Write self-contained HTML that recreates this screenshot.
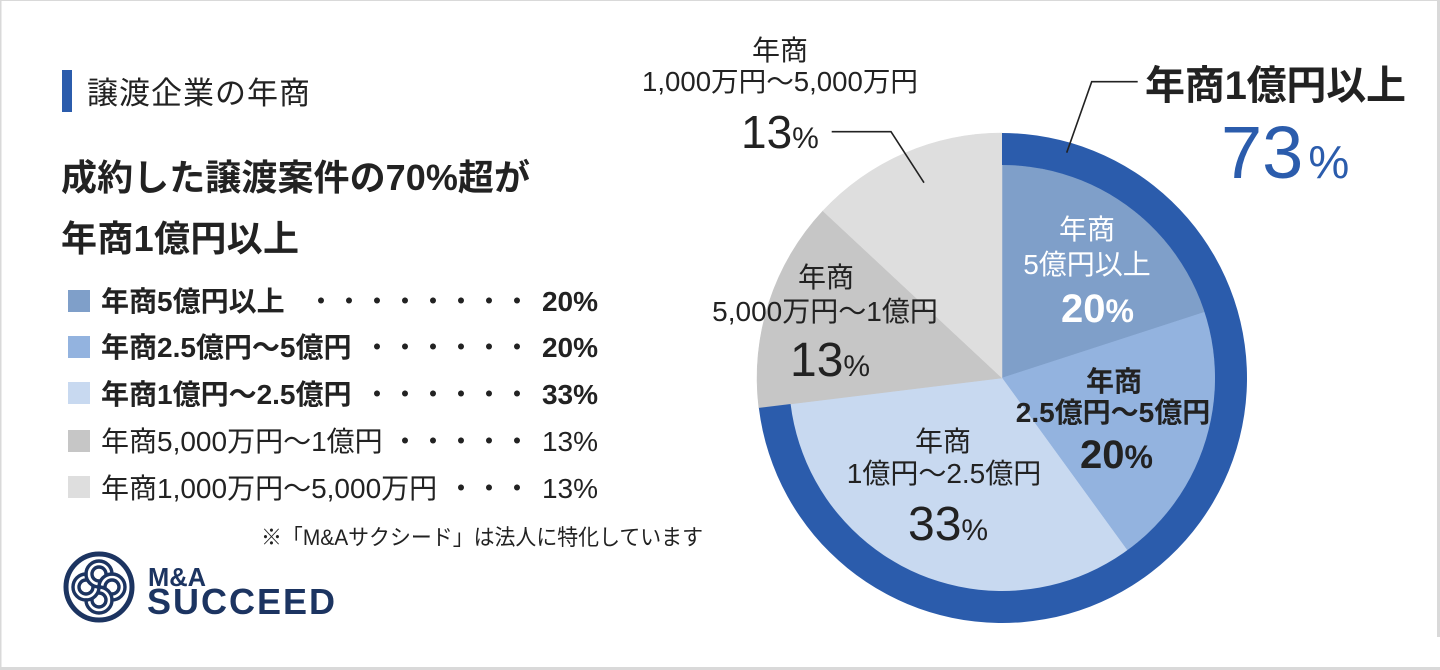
<!DOCTYPE html>
<html>
<head>
<meta charset="utf-8">
<style>
html,body{margin:0;padding:0;background:#fff;}
body{width:1440px;height:670px;overflow:hidden;}
svg{display:block;}
text{font-family:"Liberation Sans","Noto Sans CJK JP",sans-serif;fill:#222;}
.b{font-weight:700;}
.w{fill:#fff;}
.blue{fill:#2b5cac;}
.navy{fill:#1c3461;}
</style>
</head>
<body>
<svg width="1440" height="670" viewBox="0 0 1440 670" xmlns="http://www.w3.org/2000/svg">
  <rect x="0" y="0" width="1440" height="670" fill="#fff"/>
  <!-- frame -->
  <rect x="0" y="0" width="1440" height="1" fill="#d9d9d9"/>
  <rect x="0" y="0" width="1.5" height="670" fill="#d9d9d9"/>
  <rect x="1437" y="0" width="3" height="637" fill="#d9d9d9"/>
  <rect x="0" y="667" width="1440" height="3" fill="#d9d9d9"/>

  <!-- header -->
  <rect x="62" y="70" width="10" height="42" fill="#2b5cac"/>
  <text x="87" y="104" font-size="31" letter-spacing="1">譲渡企業の年商</text>

  <text class="b" x="61" y="190" font-size="36" textLength="469" lengthAdjust="spacing">成約した譲渡案件の70%超が</text>
  <text class="b" x="61" y="251" font-size="36" textLength="238" lengthAdjust="spacing">年商1億円以上</text>

  <!-- legend -->
  <rect x="68" y="290" width="22" height="22" fill="#7f9fc9"/>
  <rect x="68" y="336" width="22" height="22" fill="#93b3df"/>
  <rect x="68" y="382" width="22" height="22" fill="#c8d9f0"/>
  <rect x="68" y="430" width="22" height="22" fill="#c6c6c6"/>
  <rect x="68" y="476" width="22" height="22" fill="#dedede"/>

  <text class="b" x="101" y="311" font-size="28">年商5億円以上</text>
  <text class="b" x="101" y="357" font-size="28">年商2.5億円〜5億円</text>
  <text class="b" x="101" y="404" font-size="28">年商1億円〜2.5億円</text>
  <text x="101" y="451" font-size="28">年商5,000万円〜1億円</text>
  <text x="101" y="498" font-size="28">年商1,000万円〜5,000万円</text>

  <text x="531" y="311" font-size="28" text-anchor="end">・・・・・・・・</text>
  <text x="531" y="357" font-size="28" text-anchor="end">・・・・・・</text>
  <text x="531" y="404" font-size="28" text-anchor="end">・・・・・・</text>
  <text x="531" y="451" font-size="28" text-anchor="end">・・・・・</text>
  <text x="531" y="498" font-size="28" text-anchor="end">・・・</text>

  <text class="b" x="598" y="311" font-size="28" text-anchor="end">20%</text>
  <text class="b" x="598" y="357" font-size="28" text-anchor="end">20%</text>
  <text class="b" x="598" y="404" font-size="28" text-anchor="end">33%</text>
  <text x="598" y="451" font-size="28" text-anchor="end">13%</text>
  <text x="598" y="498" font-size="28" text-anchor="end">13%</text>

  <text x="261" y="545" font-size="22" textLength="442" lengthAdjust="spacingAndGlyphs">※「M&amp;Aサクシード」は法人に特化しています</text>

  <!-- logo -->
  <g transform="translate(99,587)" fill="none" stroke="#1c3461" stroke-linecap="round">
    <circle r="33" stroke-width="5"/>
    <g stroke-width="3.4">
      <g>
        <path d="M13,-13 A13,13 0 1 0 0,0"/>
        <path d="M7,-13 A7,7 0 1 0 0,-6"/>
      </g>
      <g transform="rotate(90)">
        <path d="M13,-13 A13,13 0 1 0 0,0"/>
        <path d="M7,-13 A7,7 0 1 0 0,-6"/>
      </g>
      <g transform="rotate(180)">
        <path d="M13,-13 A13,13 0 1 0 0,0"/>
        <path d="M7,-13 A7,7 0 1 0 0,-6"/>
      </g>
      <g transform="rotate(270)">
        <path d="M13,-13 A13,13 0 1 0 0,0"/>
        <path d="M7,-13 A7,7 0 1 0 0,-6"/>
      </g>
    </g>
  </g>
  <text class="b navy" x="148" y="586" font-size="26" textLength="58" lengthAdjust="spacingAndGlyphs">M&amp;A</text>
  <text class="b navy" x="147" y="614" font-size="36" textLength="188" lengthAdjust="spacing">SUCCEED</text>

  <!-- pie -->
  <path d="M1002,378 L1002,165 A213,213 0 0 1 1204.58,312.18 Z" fill="#7f9fc9" stroke="#7f9fc9" stroke-width="0.5"/>
  <path d="M1002,378 L1204.58,312.18 A213,213 0 0 1 1127.2,550.32 Z" fill="#93b3df" stroke="#93b3df" stroke-width="0.5"/>
  <path d="M1002,378 L1127.2,550.32 A213,213 0 0 1 790.59,403.96 Z" fill="#c8d9f0" stroke="#c8d9f0" stroke-width="0.5"/>
  <path d="M1002,378 L758.83,407.86 A245,245 0 0 1 822.82,210.91 Z" fill="#c6c6c6" stroke="#c6c6c6" stroke-width="0.5"/>
  <path d="M1002,378 L822.82,210.91 A245,245 0 0 1 1002,133 Z" fill="#dedede" stroke="#dedede" stroke-width="0.5"/>
  <path d="M1002,133 A245,245 0 1 1 758.83,407.86 L790.59,403.96 A213,213 0 1 0 1002,165 Z" fill="#2b5cac"/>

  <!-- slice labels -->
  <text class="w" x="1087" y="239" font-size="28" text-anchor="middle">年商</text>
  <text class="w" x="1087" y="274" font-size="28" text-anchor="middle">5億円以上</text>
  <text class="w b" x="1061" y="322"><tspan font-size="40">20</tspan><tspan font-size="32">%</tspan></text>

  <text class="b" x="1114" y="391" font-size="28" text-anchor="middle">年商</text>
  <text class="b" x="1113" y="422" font-size="28" text-anchor="middle">2.5億円〜5億円</text>
  <text class="b" x="1080" y="468"><tspan font-size="40">20</tspan><tspan font-size="32">%</tspan></text>

  <text x="943" y="451" font-size="28" text-anchor="middle">年商</text>
  <text x="944" y="483" font-size="28" text-anchor="middle">1億円〜2.5億円</text>
  <text x="908" y="540"><tspan font-size="48">33</tspan><tspan font-size="30">%</tspan></text>

  <text x="826" y="287" font-size="28" text-anchor="middle">年商</text>
  <text x="825" y="321" font-size="28" text-anchor="middle">5,000万円〜1億円</text>
  <text x="790" y="376"><tspan font-size="48">13</tspan><tspan font-size="30">%</tspan></text>

  <!-- outer top-left label -->
  <text x="780" y="60" font-size="28" text-anchor="middle">年商</text>
  <text x="780" y="91" font-size="27.5" text-anchor="middle" textLength="276" lengthAdjust="spacingAndGlyphs">1,000万円〜5,000万円</text>
  <text x="741" y="148"><tspan font-size="46">13</tspan><tspan font-size="30">%</tspan></text>
  <polyline points="831.7,131.7 891,131.7 924,182.7" fill="none" stroke="#222" stroke-width="1.6"/>

  <!-- outer top-right label -->
  <polyline points="1137.7,81.7 1091.7,81.7 1066.7,152.7" fill="none" stroke="#222" stroke-width="1.6"/>
  <text class="b" x="1145" y="99" font-size="40" textLength="261" lengthAdjust="spacing">年商1億円以上</text>
  <text class="blue" x="1221" y="178"><tspan font-size="74">73</tspan><tspan font-size="46" dx="5">%</tspan></text>
</svg>
</body>
</html>
